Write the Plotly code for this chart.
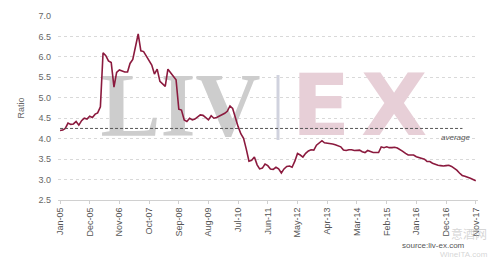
import plotly.graph_objects as go
import pandas as pd

start_month = "2005-01-01"
ratio = [
    4.20, 4.21, 4.25, 4.38, 4.35, 4.36, 4.42, 4.33, 4.44, 4.50,
    4.48, 4.55, 4.52, 4.60, 4.63, 4.78, 6.10, 6.03, 5.90, 5.86,
    5.26, 5.62, 5.68, 5.66, 5.63, 5.63, 5.84, 5.94, 6.25, 6.56,
    6.15, 6.13, 6.02, 5.92, 5.80, 5.58, 5.70, 5.40, 5.33, 5.28,
    5.70, 5.62, 5.54, 5.44, 4.72, 4.70, 4.46, 4.42, 4.50, 4.46,
    4.48, 4.52, 4.58, 4.57, 4.52, 4.46, 4.56, 4.50, 4.52, 4.55,
    4.58, 4.62, 4.67, 4.80, 4.74, 4.50, 4.30, 4.12, 4.01, 3.75,
    3.45, 3.47, 3.55, 3.36, 3.26, 3.28, 3.38, 3.34, 3.26, 3.25,
    3.30, 3.26, 3.16, 3.26, 3.32, 3.33, 3.30, 3.45, 3.64, 3.60,
    3.55, 3.64, 3.70, 3.73, 3.72, 3.84, 3.90, 3.95, 3.90, 3.89,
    3.89, 3.87, 3.85, 3.83, 3.80, 3.72, 3.71, 3.73, 3.73, 3.71,
    3.72, 3.72, 3.68, 3.66, 3.71, 3.68, 3.66, 3.66, 3.66, 3.80,
    3.78, 3.80, 3.78, 3.78, 3.79, 3.77, 3.74, 3.69, 3.64, 3.60,
    3.60, 3.60, 3.56, 3.54, 3.52, 3.50, 3.44, 3.44, 3.40, 3.37,
    3.35, 3.34, 3.33, 3.34, 3.35, 3.32, 3.28, 3.23, 3.16, 3.10,
    3.08, 3.06, 3.03, 3.00, 2.97,
]
average_value = 4.25
tick_labels = ["Jan-05", "Dec-05", "Nov-06", "Oct-07", "Sep-08", "Aug-09", "Jul-10",
               "Jun-11", "May-12", "Apr-13", "Mar-14", "Feb-15", "Jan-16", "Dec-16", "Nov-17"]

dates = pd.date_range(start_month, periods=len(ratio), freq="MS")
tick_dates = [pd.to_datetime("01-" + t, format="%d-%b-%y") for t in tick_labels]

FONT = "Liberation Sans, Arial, sans-serif"
L, R, T, B = 58, 22, 16, 65
W, H = 500, 265


def px_x(px):
    return (px - L) / (W - L - R)


def px_y(py):
    return (H - B - py) / (H - B - T)


fig = go.Figure()

# watermark (drawn first so the series sits on top)
fig.add_trace(go.Scatter(
    x=[pd.Timestamp("2008-09-20"), pd.Timestamp("2013-01-20"), pd.Timestamp("2015-04-25")],
    y=[4.62, 4.62, 4.62], mode="text", text=["<b>LIV</b>", "<b>E</b>", "<b>X</b>"],
    textposition="middle center",
    textfont=dict(family=["Liberation Serif", "DejaVu Sans", "DejaVu Sans"],
                  size=[90, 86, 86],
                  color=["rgba(205,205,205,1)", "rgba(231,207,215,1)", "rgba(231,207,215,1)"]),
    hoverinfo="skip", showlegend=False,
))

fig.add_trace(go.Scatter(
    x=dates, y=ratio, mode="lines",
    line=dict(color="#8b1a3e", width=1.6),
    hoverinfo="skip", showlegend=False,
))
fig.add_trace(go.Scatter(
    x=[dates[0], dates[-1] - pd.Timedelta(days=150)], y=[average_value, average_value],
    mode="lines", line=dict(color="#555555", width=1, dash="3px,2px"),
    hoverinfo="skip", showlegend=False,
))

fig.update_layout(
    width=W, height=H,
    margin=dict(l=L, r=R, t=T, b=B),
    paper_bgcolor="white", plot_bgcolor="white",
    font=dict(family=FONT, size=9, color="#666666"),
    xaxis=dict(
        range=[pd.Timestamp("2004-12-09"), pd.Timestamp("2017-11-26")],
        tickvals=tick_dates, ticktext=tick_labels, tickangle=-90,
        showgrid=False, showline=True, linecolor="#d0d0d0", linewidth=1,
        ticks="outside", ticklen=3, tickcolor="#d0d0d0",
        tickfont=dict(size=9, color="#555555"), zeroline=False,
    ),
    yaxis=dict(
        range=[2.5, 7.0], tickvals=[2.5, 3.0, 3.5, 4.0, 4.5, 5.0, 5.5, 6.0, 6.5, 7.0],
        ticktext=["2.5", "3.0", "3.5", "4.0", "4.5", "5.0", "5.5", "6.0", "6.5", "7.0"],
        showgrid=True, gridcolor="#d9d9d9", griddash="dot", gridwidth=1,
        zeroline=False, showline=False, ticks="", ticklabelstandoff=6,
        tickfont=dict(size=9, color="#666666"),
        title=dict(text="Ratio", font=dict(size=9, color="#666666"), standoff=12),
    ),
)

fig.add_shape(type="line", xref="paper", yref="paper",
              x0=px_x(278), x1=px_x(278), y0=px_y(75), y1=px_y(140),
              line=dict(color="rgba(208,210,222,1)", width=3), layer="below")
fig.add_annotation(x=px_x(455), y=px_y(137), xref="paper", yref="paper", text="<i>average</i>",
                   showarrow=False, xanchor="center", yanchor="middle",
                   font=dict(size=8, color="#555555"))
fig.add_annotation(x=px_x(449), y=px_y(233), xref="paper", yref="paper", text="意酒网",
                   showarrow=False, xanchor="left", yanchor="middle",
                   font=dict(family="Noto Sans CJK SC", size=12, color="rgba(185,185,185,0.6)"))
fig.add_annotation(x=px_x(490), y=px_y(255), xref="paper", yref="paper", text="WineITA.com",
                   showarrow=False, xanchor="right", yanchor="middle",
                   font=dict(size=8, color="rgba(185,185,185,0.6)"))
fig.add_annotation(x=px_x(467), y=px_y(245), xref="paper", yref="paper", text="source:liv-ex.com",
                   showarrow=False, xanchor="right", yanchor="middle",
                   font=dict(size=8, color="#555555"))

fig.write_html("out.html")
